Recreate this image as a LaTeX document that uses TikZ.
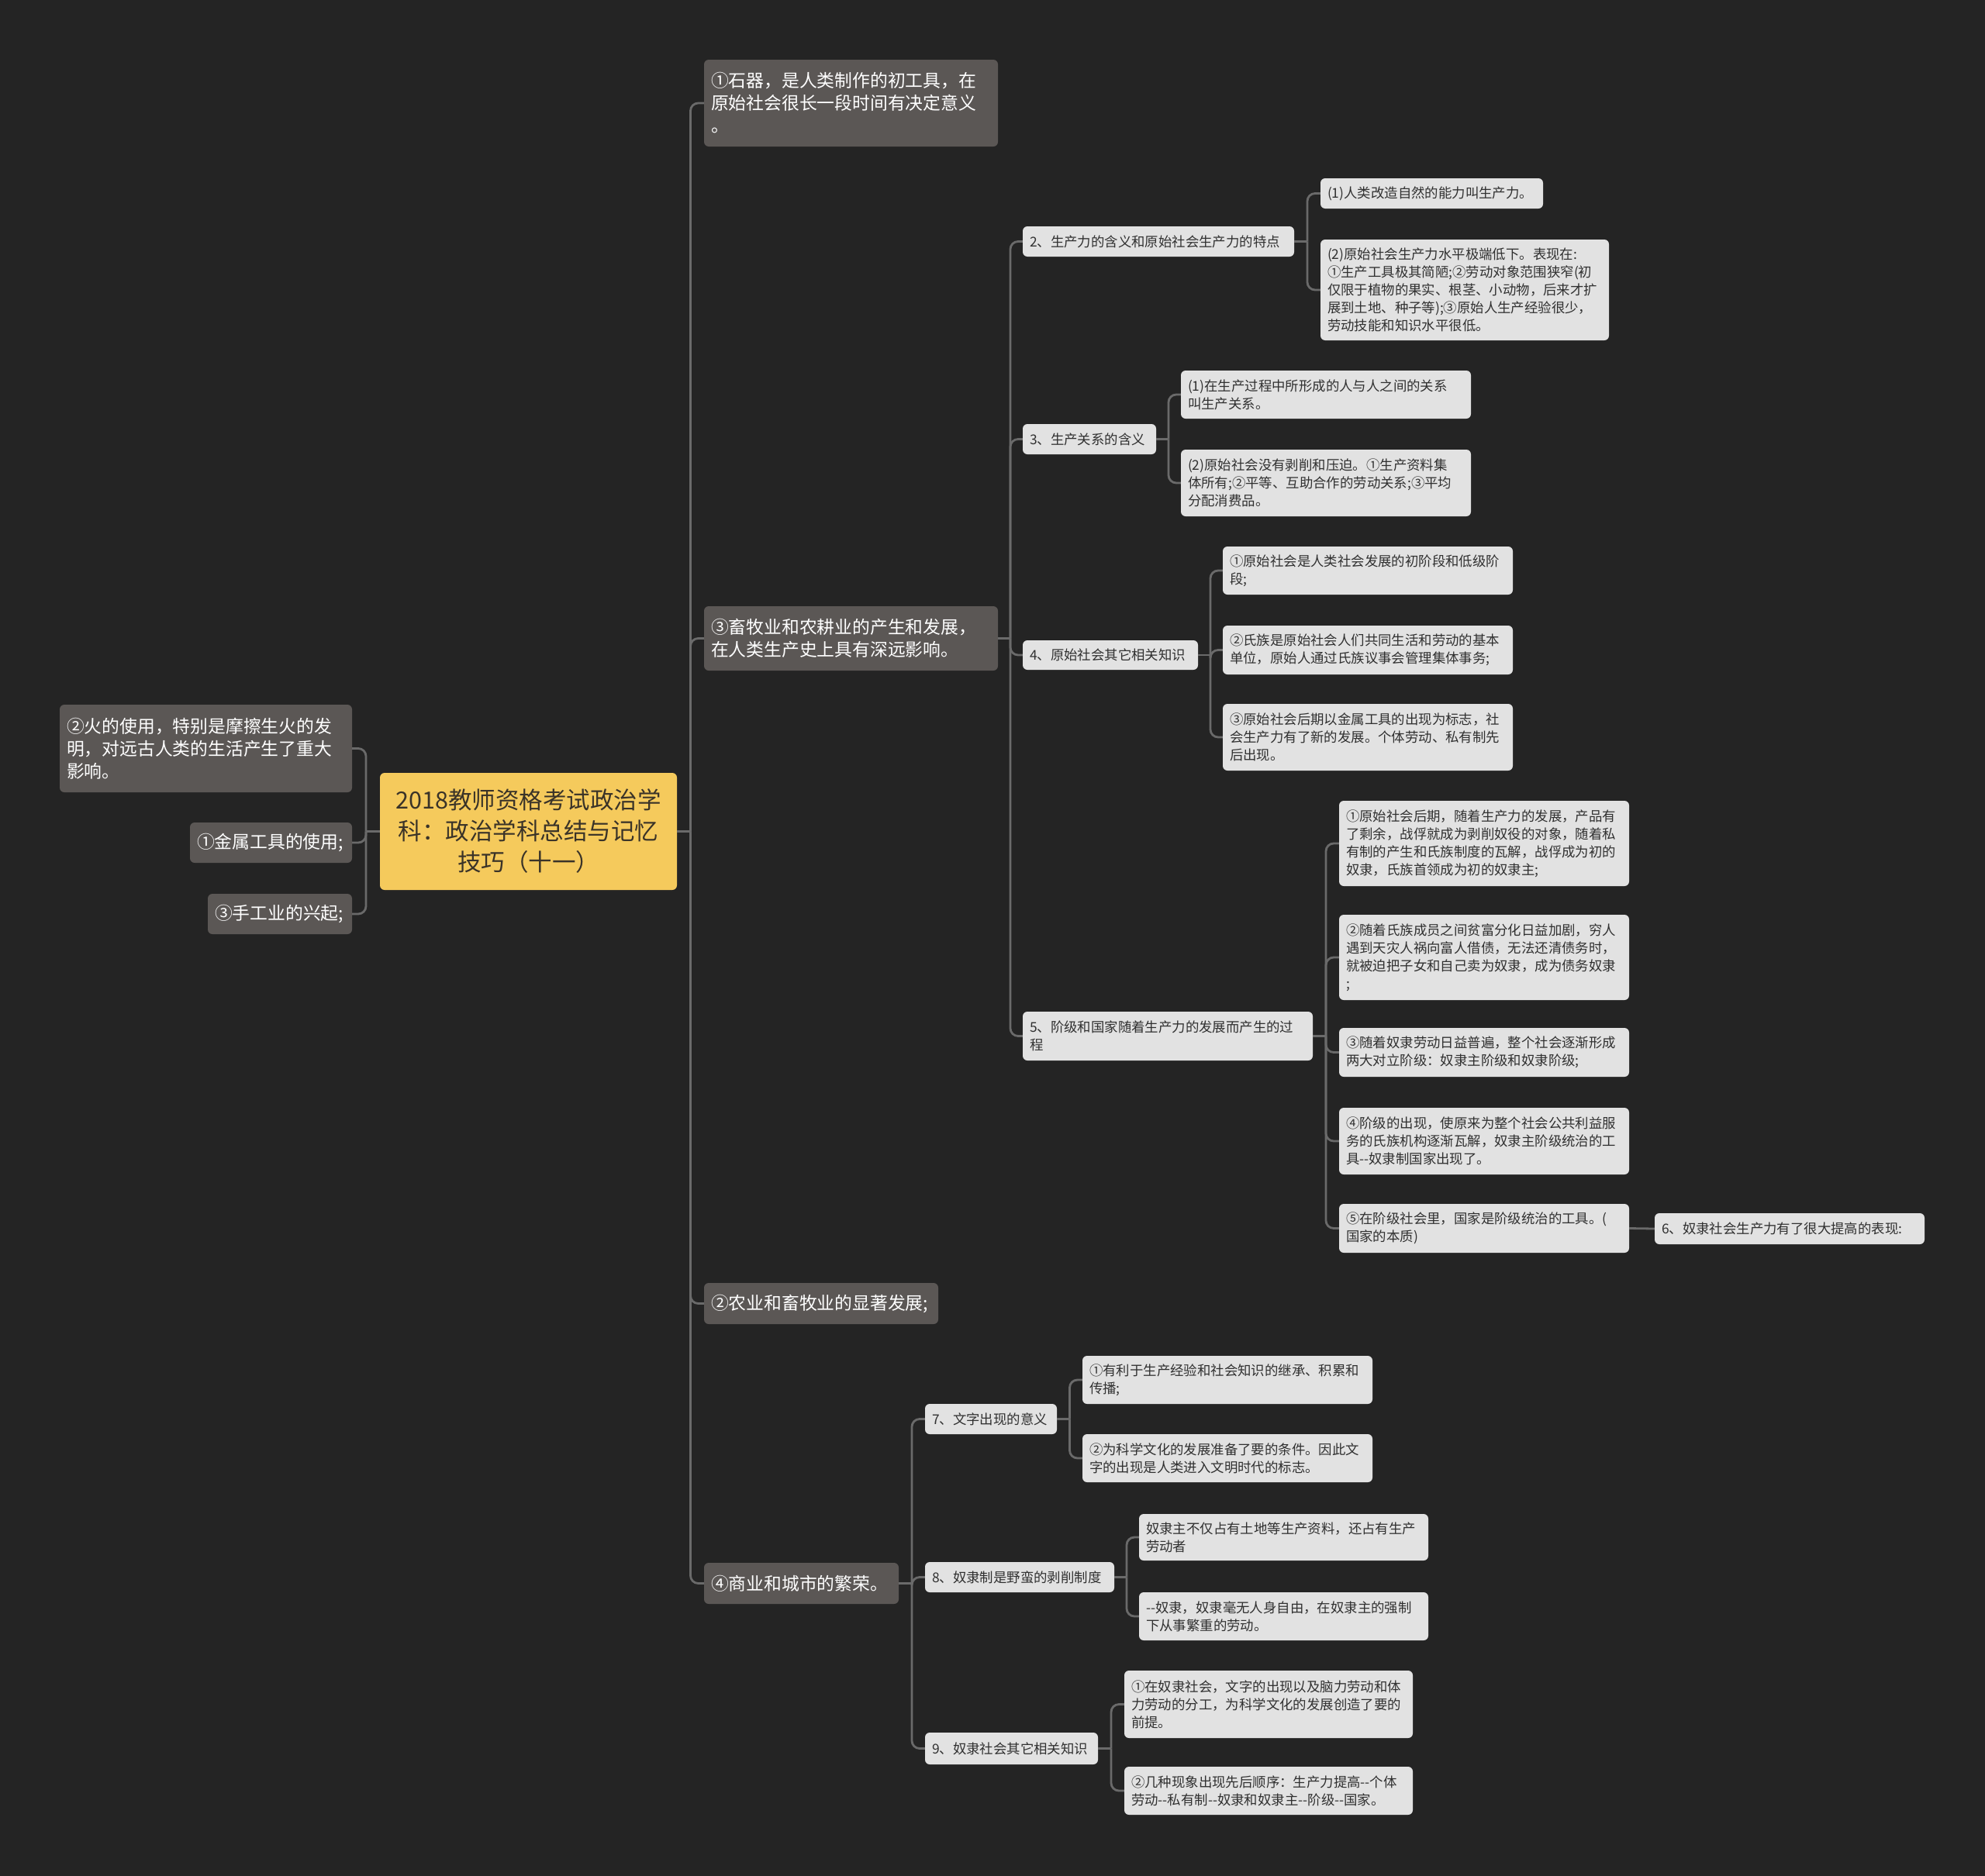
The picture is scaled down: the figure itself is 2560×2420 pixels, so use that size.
\documentclass[tikz,border=0pt]{standalone}
\usepackage{fontspec}
\setmainfont{Noto Sans CJK SC}
\usetikzlibrary{calc}
\definecolor{bgc}{HTML}{242424}
\definecolor{rootc}{HTML}{F5CA5C}
\definecolor{roottext}{HTML}{3A3328}
\definecolor{lonec}{HTML}{5B5755}
\definecolor{ltwoc}{HTML}{E2E2E2}
\definecolor{ltwotext}{HTML}{303030}
\definecolor{linkc}{HTML}{6A6A6A}
\newcommand\nd[7]{%
  \pgfmathsetmacro\ndw{#5-#3}\pgfmathsetmacro\ndh{#6-#4}%
  \pgfmathsetmacro\ndcx{(#3+#5)/2}\pgfmathsetmacro\ndcy{(#4+#6)/2}%
  \pgfmathsetmacro\ndtw{#5-#3-18}%
  \node[#2, minimum width=\ndw pt, minimum height=\ndh pt, text width=\ndtw pt] (#1) at (\ndcx,\ndcy) {#7};}
\newcommand\conn[2]{%
  \path ($(#1.east)!.5!(#2.west)$) coordinate (cm);
  \draw[link] (#1.east) -- (cm |- #1.east);
  \draw[link, rounded corners=10pt] (cm |- #1.east) |- (#2.west);}
\newcommand\connL[2]{%
  \path ($(#1.west)!.5!(#2.east)$) coordinate (cm);
  \draw[link] (#1.west) -- (cm |- #1.west);
  \draw[link, rounded corners=10pt] (cm |- #1.west) |- (#2.east);}
\begin{document}
\begin{tikzpicture}[x=1pt,y=-1pt,
  rootbox/.style={fill=rootc, text=roottext, rounded corners=6pt, inner xsep=9pt, inner ysep=2pt,
    font=\fontsize{30.5}{40}\selectfont, align=center},
  onebox/.style={fill=lonec, text=white, rounded corners=6pt, inner xsep=9pt, inner ysep=2pt,
    font=\fontsize{22.8}{29}\selectfont, align=left},
  twobox/.style={fill=ltwoc, text=ltwotext, rounded corners=6pt, inner xsep=9pt, inner ysep=2pt,
    font=\fontsize{17.4}{23}\selectfont, align=left},
  link/.style={draw=linkc, line width=2.8pt, line join=round}]
\fill[bgc] (0,0) rectangle (2560,2420);
\useasboundingbox (0,0) rectangle (2560,2420);

% root
\nd{rt}{rootbox}{490}{997}{873}{1148}{2018教师资格考试政治学\\科：政治学科总结与记忆\\技巧（十一）}

% left
\nd{lfire}{onebox}{77}{909}{454}{1022}{②火的使用，特别是摩擦生火的发\\明，对远古人类的生活产生了重大\\影响。}
\nd{lmetal}{onebox}{245}{1061}{454}{1113}{①金属工具的使用;}
\nd{lcraft}{onebox}{268}{1153}{454}{1205}{③手工业的兴起;}

% right level 1
\nd{stone}{onebox}{908}{77}{1287}{189}{①石器，是人类制作的初工具，在\\原始社会很长一段时间有决定意义\\。}
\nd{herd}{onebox}{908}{782}{1287}{865}{③畜牧业和农耕业的产生和发展，\\在人类生产史上具有深远影响。}
\nd{agri}{onebox}{908}{1655}{1210}{1708}{②农业和畜牧业的显著发展;}
\nd{comm}{onebox}{908}{2016}{1159}{2069}{④商业和城市的繁荣。}

% level 2 under herd
\nd{btwo}{twobox}{1319}{292}{1669}{331}{2、生产力的含义和原始社会生产力的特点}
\nd{bthree}{twobox}{1319}{547}{1491}{586}{3、生产关系的含义}
\nd{bfour}{twobox}{1319}{826}{1545}{864}{4、原始社会其它相关知识}
\nd{bfive}{twobox}{1319}{1305}{1693}{1368}{5、阶级和国家随着生产力的发展而产生的过\\程}

% level 3
\nd{btwoa}{twobox}{1703}{230}{1990}{269}{(1)人类改造自然的能力叫生产力。}
\nd{btwob}{twobox}{1703}{309}{2075}{439}{(2)原始社会生产力水平极端低下。表现在:\\①生产工具极其简陋;②劳动对象范围狭窄(初\\仅限于植物的果实、根茎、小动物，后来才扩\\展到土地、种子等);③原始人生产经验很少，\\劳动技能和知识水平很低。}
\nd{bthreea}{twobox}{1523}{478}{1897}{540}{(1)在生产过程中所形成的人与人之间的关系\\叫生产关系。}
\nd{bthreeb}{twobox}{1523}{580}{1897}{666}{(2)原始社会没有剥削和压迫。①生产资料集\\体所有;②平等、互助合作的劳动关系;③平均\\分配消费品。}
\nd{bfoura}{twobox}{1577}{705}{1951}{767}{①原始社会是人类社会发展的初阶段和低级阶\\段;}
\nd{bfourb}{twobox}{1577}{807}{1951}{870}{②氏族是原始社会人们共同生活和劳动的基本\\单位，原始人通过氏族议事会管理集体事务;}
\nd{bfourc}{twobox}{1577}{908}{1951}{994}{③原始社会后期以金属工具的出现为标志，社\\会生产力有了新的发展。个体劳动、私有制先\\后出现。}
\nd{bfivea}{twobox}{1727}{1033}{2101}{1143}{①原始社会后期，随着生产力的发展，产品有\\了剩余，战俘就成为剥削奴役的对象，随着私\\有制的产生和氏族制度的瓦解，战俘成为初的\\奴隶，氏族首领成为初的奴隶主;}
\nd{bfiveb}{twobox}{1727}{1180}{2101}{1290}{②随着氏族成员之间贫富分化日益加剧，穷人\\遇到天灾人祸向富人借债，无法还清债务时，\\就被迫把子女和自己卖为奴隶，成为债务奴隶\\;}
\nd{bfivec}{twobox}{1727}{1326}{2101}{1389}{③随着奴隶劳动日益普遍，整个社会逐渐形成\\两大对立阶级：奴隶主阶级和奴隶阶级;}
\nd{bfived}{twobox}{1727}{1429}{2101}{1515}{④阶级的出现，使原来为整个社会公共利益服\\务的氏族机构逐渐瓦解，奴隶主阶级统治的工\\具-{}-奴隶制国家出现了。}
\nd{bfivee}{twobox}{1727}{1553}{2101}{1616}{⑤在阶级社会里，国家是阶级统治的工具。(\\国家的本质)}
\nd{bsix}{twobox}{2134}{1565}{2482}{1605}{6、奴隶社会生产力有了很大提高的表现:}

% under comm
\nd{dseven}{twobox}{1193}{1811}{1363}{1850}{7、文字出现的意义}
\nd{deight}{twobox}{1193}{2015}{1437}{2054}{8、奴隶制是野蛮的剥削制度}
\nd{dnine}{twobox}{1193}{2235}{1416}{2276}{9、奴隶社会其它相关知识}
\nd{dsevena}{twobox}{1396}{1749}{1770}{1811}{①有利于生产经验和社会知识的继承、积累和\\传播;}
\nd{dsevenb}{twobox}{1396}{1850}{1770}{1912}{②为科学文化的发展准备了要的条件。因此文\\字的出现是人类进入文明时代的标志。}
\nd{deighta}{twobox}{1469}{1953}{1842}{2013}{奴隶主不仅占有土地等生产资料，还占有生产\\劳动者}
\nd{deightb}{twobox}{1469}{2054}{1842}{2116}{-{}-奴隶，奴隶毫无人身自由，在奴隶主的强制\\下从事繁重的劳动。}
\nd{dninea}{twobox}{1450}{2155}{1822}{2242}{①在奴隶社会，文字的出现以及脑力劳动和体\\力劳动的分工，为科学文化的发展创造了要的\\前提。}
\nd{dnineb}{twobox}{1450}{2279}{1822}{2341}{②几种现象出现先后顺序：生产力提高-{}-个体\\劳动-{}-私有制-{}-奴隶和奴隶主-{}-阶级-{}-国家。}

% connectors
\connL{rt}{lfire}
\connL{rt}{lmetal}
\connL{rt}{lcraft}
\conn{rt}{stone}
\conn{rt}{herd}
\conn{rt}{agri}
\conn{rt}{comm}
\conn{herd}{btwo}
\conn{herd}{bthree}
\conn{herd}{bfour}
\conn{herd}{bfive}
\conn{btwo}{btwoa}
\conn{btwo}{btwob}
\conn{bthree}{bthreea}
\conn{bthree}{bthreeb}
\conn{bfour}{bfoura}
\conn{bfour}{bfourb}
\conn{bfour}{bfourc}
\conn{bfive}{bfivea}
\conn{bfive}{bfiveb}
\conn{bfive}{bfivec}
\conn{bfive}{bfived}
\conn{bfive}{bfivee}
\draw[link] (bfivee.east) -- (bsix.west);
\conn{comm}{dseven}
\conn{comm}{deight}
\conn{comm}{dnine}
\conn{dseven}{dsevena}
\conn{dseven}{dsevenb}
\conn{deight}{deighta}
\conn{deight}{deightb}
\conn{dnine}{dninea}
\conn{dnine}{dnineb}
\end{tikzpicture}
\end{document}
